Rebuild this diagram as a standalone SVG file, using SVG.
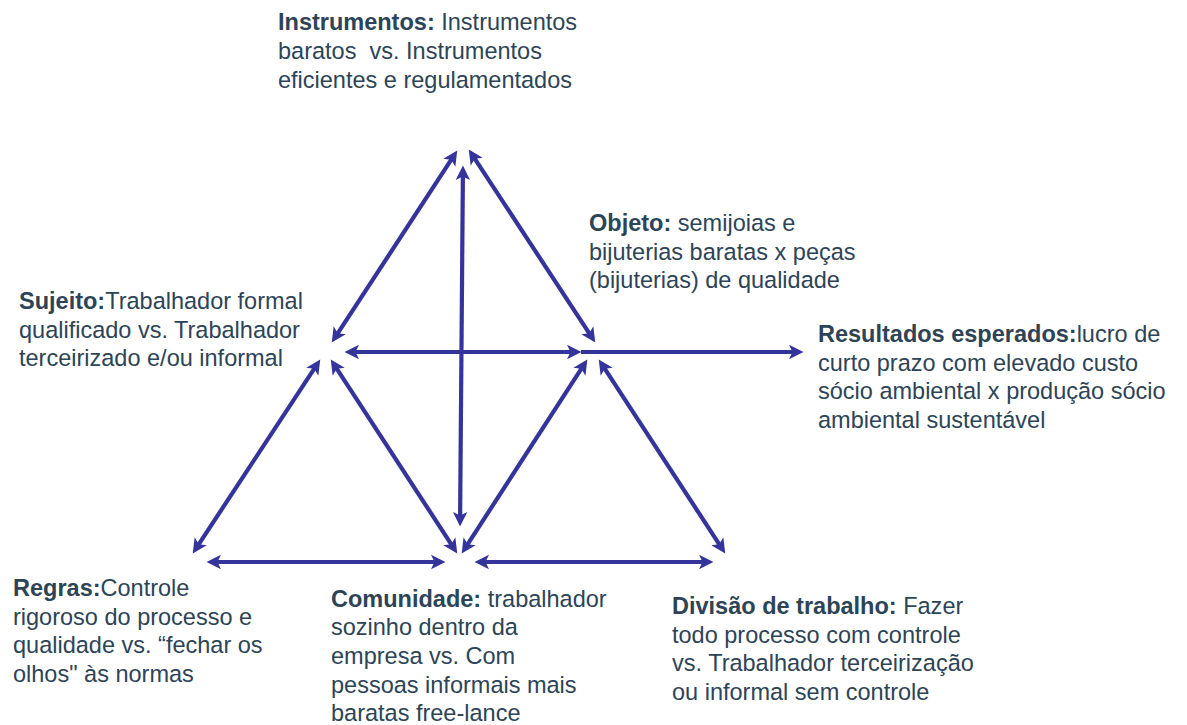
<svg xmlns="http://www.w3.org/2000/svg" width="1187" height="725" viewBox="0 0 1187 725">
<style>
  text { font-family: "Liberation Sans", Arial, sans-serif; font-size: 24.5px; fill: #2d4457; white-space: pre; }
  .b { font-weight: bold; }
  .c line { stroke: #34349a; stroke-width: 4.2; fill: none; }
</style>
<defs>
  <marker id="ah" markerUnits="userSpaceOnUse" markerWidth="16" markerHeight="16" viewBox="0 -8 16 16" refX="6" refY="0" orient="auto-start-reverse">
    <path d="M14.5,0 L0,-7.2 L3.5,0 L0,7.2 Z" fill="#34349a"/>
  </marker>
</defs>
<rect width="1187" height="725" fill="#ffffff"/>
<g id="connectors" class="c">
  <line x1="452.6" y1="157.7" x2="336.4" y2="335.3" marker-start="url(#ah)" marker-end="url(#ah)"/>
  <line x1="473.4" y1="156.7" x2="590.6" y2="335.3" marker-start="url(#ah)" marker-end="url(#ah)"/>
  <line x1="462.9" y1="174" x2="460.1" y2="518" marker-start="url(#ah)" marker-end="url(#ah)"/>
  <line x1="353" y1="352" x2="573" y2="352" marker-start="url(#ah)" marker-end="url(#ah)"/>
  <line x1="581" y1="352" x2="795" y2="352" marker-end="url(#ah)"/>
  <line x1="315.6" y1="366.7" x2="197.4" y2="546.3" marker-start="url(#ah)" marker-end="url(#ah)"/>
  <line x1="335.4" y1="366.7" x2="452.6" y2="546.3" marker-start="url(#ah)" marker-end="url(#ah)"/>
  <line x1="582.7" y1="366.7" x2="466.3" y2="546.3" marker-start="url(#ah)" marker-end="url(#ah)"/>
  <line x1="603.4" y1="366.7" x2="720.6" y2="546.3" marker-start="url(#ah)" marker-end="url(#ah)"/>
  <line x1="215" y1="562" x2="437" y2="562" marker-start="url(#ah)" marker-end="url(#ah)"/>
  <line x1="483" y1="562" x2="705" y2="562" marker-start="url(#ah)" marker-end="url(#ah)"/>
</g>
<g id="instrumentos" transform="translate(278 0) scale(0.96 1)">
  <text x="0" y="30"><tspan class="b">Instrumentos:</tspan> Instrumentos</text>
  <text x="0" y="59">baratos  vs. Instrumentos</text>
  <text x="0" y="88">eficientes e regulamentados</text>
</g>
<g id="objeto" transform="translate(589 0) scale(0.96 1)">
  <text x="0" y="231"><tspan class="b">Objeto:</tspan> semijoias e</text>
  <text x="0" y="260">bijuterias baratas x peças</text>
  <text x="0" y="288">(bijuterias) de qualidade</text>
</g>
<g id="sujeito" transform="translate(19 0) scale(0.96 1)">
  <text x="0" y="309"><tspan class="b">Sujeito:</tspan>Trabalhador formal</text>
  <text x="0" y="338">qualificado vs. Trabalhador</text>
  <text x="0" y="366">terceirizado e/ou informal</text>
</g>
<g id="resultados" transform="translate(818 0) scale(0.96 1)">
  <text x="0" y="342"><tspan class="b">Resultados esperados:</tspan>lucro de</text>
  <text x="0" y="371">curto prazo com elevado custo</text>
  <text x="0" y="399">sócio ambiental x produção sócio</text>
  <text x="0" y="428">ambiental sustentável</text>
</g>
<g id="regras" transform="translate(13 0) scale(0.96 1)">
  <text x="0" y="596"><tspan class="b">Regras:</tspan>Controle</text>
  <text x="0" y="625">rigoroso do processo e</text>
  <text x="0" y="653">qualidade vs. “fechar os</text>
  <text x="0" y="682">olhos" às normas</text>
</g>
<g id="comunidade" transform="translate(331 0) scale(0.96 1)">
  <text x="0" y="607"><tspan class="b">Comunidade:</tspan> trabalhador</text>
  <text x="0" y="635">sozinho dentro da</text>
  <text x="0" y="664">empresa vs. Com</text>
  <text x="0" y="693">pessoas informais mais</text>
  <text x="0" y="721">baratas free-lance</text>
</g>
<g id="divisao" transform="translate(672 0) scale(0.96 1)">
  <text x="0" y="614"><tspan class="b">Divisão de trabalho:</tspan> Fazer</text>
  <text x="0" y="643">todo processo com controle</text>
  <text x="0" y="671">vs. Trabalhador terceirização</text>
  <text x="0" y="700">ou informal sem controle</text>
</g>
</svg>
